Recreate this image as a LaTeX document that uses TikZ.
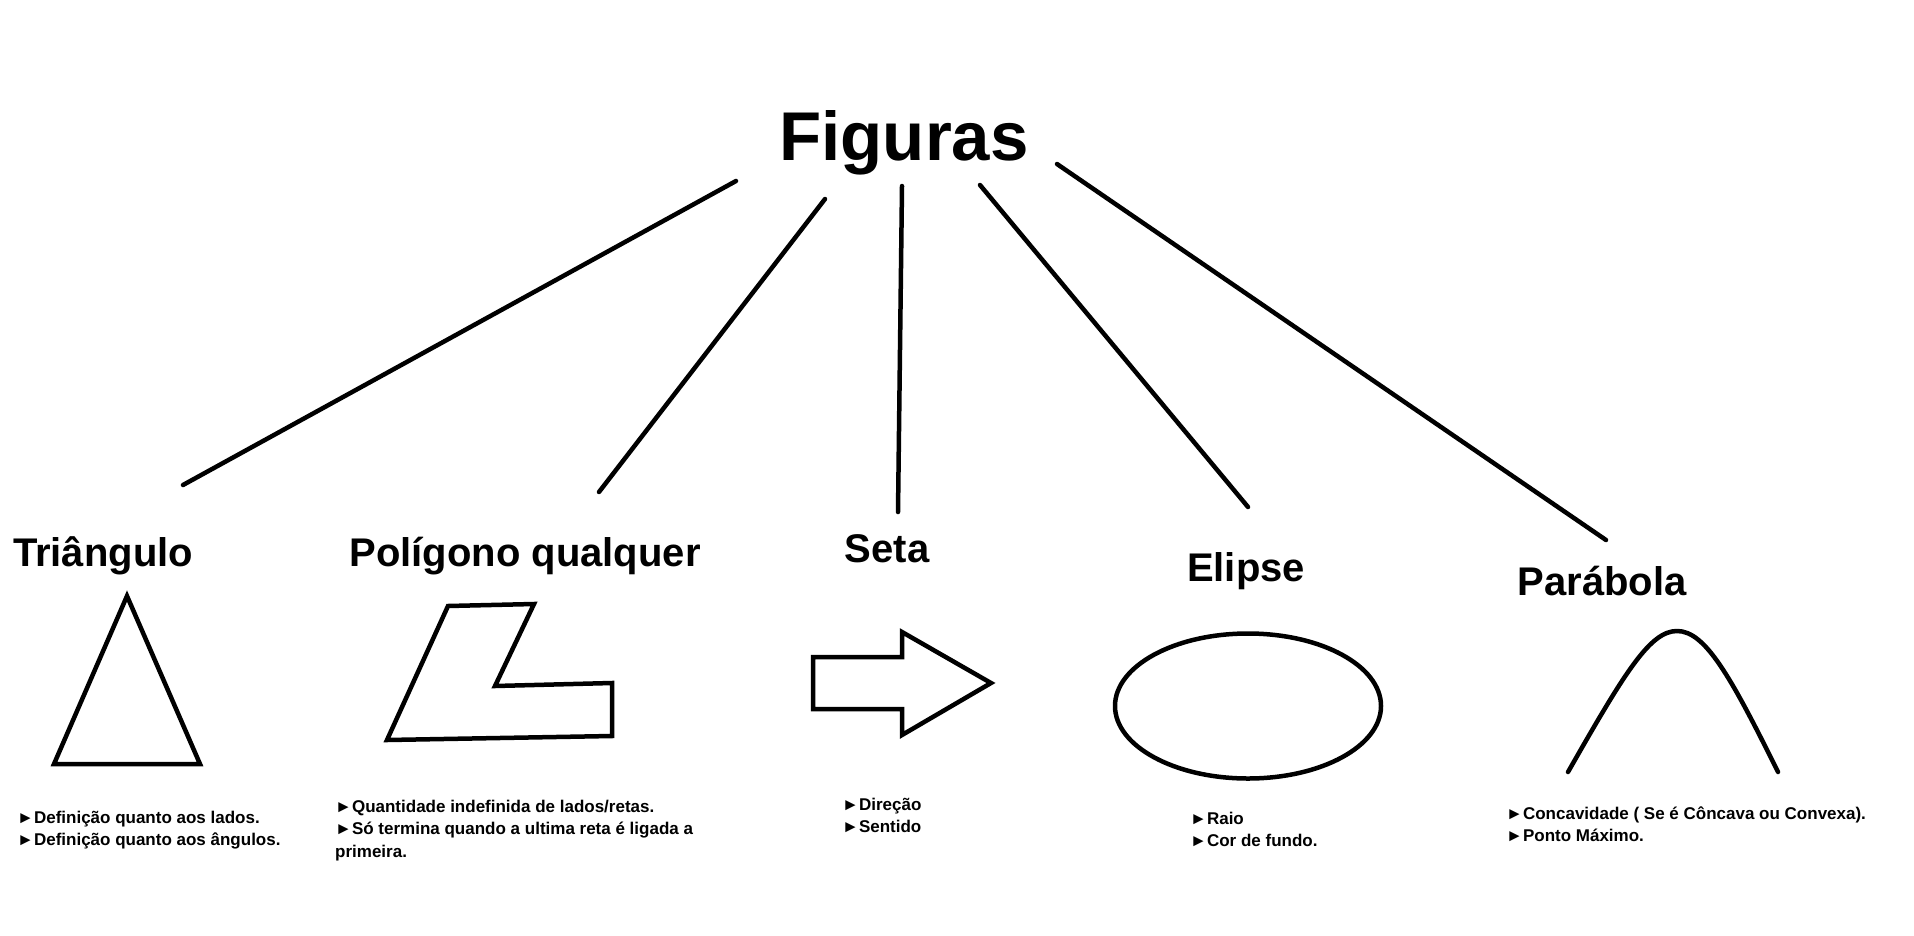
\documentclass[tikz,border=0pt]{standalone}
\usepackage{fontspec}
\setmainfont{Liberation Sans}
\begin{document}
\begin{tikzpicture}[x=1pt,y=-1pt,
  ln/.style={line width=4.5pt, line cap=round},
  shp/.style={line width=4.5pt, line join=miter},
  ttl/.style={font=\fontsize{40}{48}\selectfont\bfseries, inner sep=0pt, anchor=base},
  itm/.style={font=\fontsize{17}{22}\selectfont\bfseries, inner sep=0pt, anchor=base west}]
\fill[white] (0,0) rectangle (1914,935);
\useasboundingbox (0,0) rectangle (1914,935);

% title
\node[font=\fontsize{69}{80}\selectfont\bfseries, inner sep=0pt, anchor=base] (fig) at (904,160) {Figuras};

% category labels
\node[ttl] (tri) at (103,566) {Triângulo};
\node[ttl] (pol) at (525,566) {Polígono qualquer};
\node[ttl] (set) at (887,562) {Seta};
\node[ttl] (eli) at (1246,581) {Elipse};
\node[ttl] (par) at (1602,595) {Parábola};

% connector end points
\coordinate (a1) at (736,181); \coordinate (b1) at (183,485);
\coordinate (a2) at (825,199); \coordinate (b2) at (599,492);
\coordinate (a3) at (902,186); \coordinate (b3) at (898,512);
\coordinate (a4) at (980,185); \coordinate (b4) at (1248,507);
\coordinate (a5) at (1057,164); \coordinate (b5) at (1606,540);
\draw[ln] (a1) -- (b1);
\draw[ln] (a2) -- (b2);
\draw[ln] (a3) -- (b3);
\draw[ln] (a4) -- (b4);
\draw[ln] (a5) -- (b5);

% shapes
\draw[shp] (127,596) -- (200,764) -- (54,764) -- cycle;
\draw[shp] (448,606) -- (534,604) -- (495,686) -- (612,683) -- (612,736) -- (387,740) -- cycle;
\draw[shp] (813,657) -- (902,657) -- (902,632) -- (991,683) -- (902,735) -- (902,709) -- (813,709) -- cycle;
\draw[shp] (1248,706) ellipse [x radius=133, y radius=72.5];
\draw[ln] (1568,772) .. controls (1625,672) and (1650,631) .. (1677,631) .. controls (1705,631) and (1730,675) .. (1778,772);

% descriptions
\node[itm] (t1) at (17,823) {►Definição quanto aos lados.};
\node[itm] (t2) at (17,845) {►Definição quanto aos ângulos.};
\node[itm] (p1) at (335,812) {►Quantidade indefinida de lados/retas.};
\node[itm] (p2) at (335,834) {►Só termina quando a ultima reta é ligada a};
\node[itm] (p3) at (335,857) {primeira.};
\node[itm] (s1) at (842,810) {►Direção};
\node[itm] (s2) at (842,832) {►Sentido};
\node[itm] (e1) at (1190,824) {►Raio};
\node[itm] (e2) at (1190,846) {►Cor de fundo.};
\node[itm] (q1) at (1506,819) {►Concavidade ( Se é Côncava ou Convexa).};
\node[itm] (q2) at (1506,841) {►Ponto Máximo.};
\end{tikzpicture}
\end{document}
